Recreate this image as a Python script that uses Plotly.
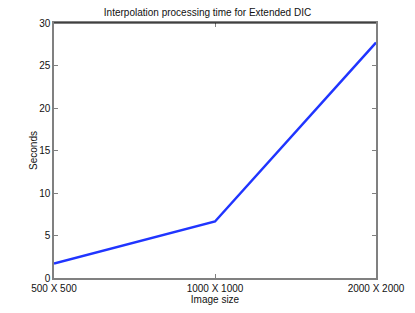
import plotly.graph_objects as go

categories = ["500 X 500", "1000 X 1000", "2000 X 2000"]
seconds = [1.7, 6.65, 27.7]
y_ticks = [0, 5, 10, 15, 20, 25, 30]

fig = go.Figure()
fig.add_trace(go.Scatter(x=categories, y=seconds, mode="lines",
                         line=dict(color="#2035ff", width=2.5), showlegend=False))

font = dict(family="Liberation Sans, Arial, sans-serif", size=10, color="#111")
fig.update_layout(
    width=415, height=313,
    margin=dict(l=54, r=39, t=23, b=35),
    paper_bgcolor="white", plot_bgcolor="white",
    font=font,
    title=dict(text="Interpolation processing time for Extended DIC", x=0.5, xanchor="center",
               y=1 - 12/313, yanchor="middle", font=dict(size=10, color="#111")),
)
fig.update_xaxes(type="category", categoryarray=categories, range=[0, 2], automargin=False,
                 showgrid=False, zeroline=False, showline=True, linecolor="#808080", linewidth=1.5,
                 mirror="ticks", ticks="inside", ticklen=4, tickcolor="#808080",
                 title=dict(text="Image size", standoff=0, font=dict(size=10)),
                 tickfont=dict(size=10))
fig.update_yaxes(range=[0, 30], tickvals=y_ticks, showgrid=False, zeroline=False, automargin=False,
                 showline=True, linecolor="#808080", linewidth=1.5, mirror="ticks",
                 ticks="inside", ticklen=4, tickcolor="#808080",
                 title=dict(text="Seconds", standoff=0, font=dict(size=10)),
                 tickfont=dict(size=10))
fig.add_shape(type="line", xref="paper", yref="paper", x0=0, x1=1, y0=1, y1=1,
              line=dict(color="black", width=1.2))
fig.write_html("out.html", config={"displayModeBar": False},
               post_script="document.body.style.margin='0';")
